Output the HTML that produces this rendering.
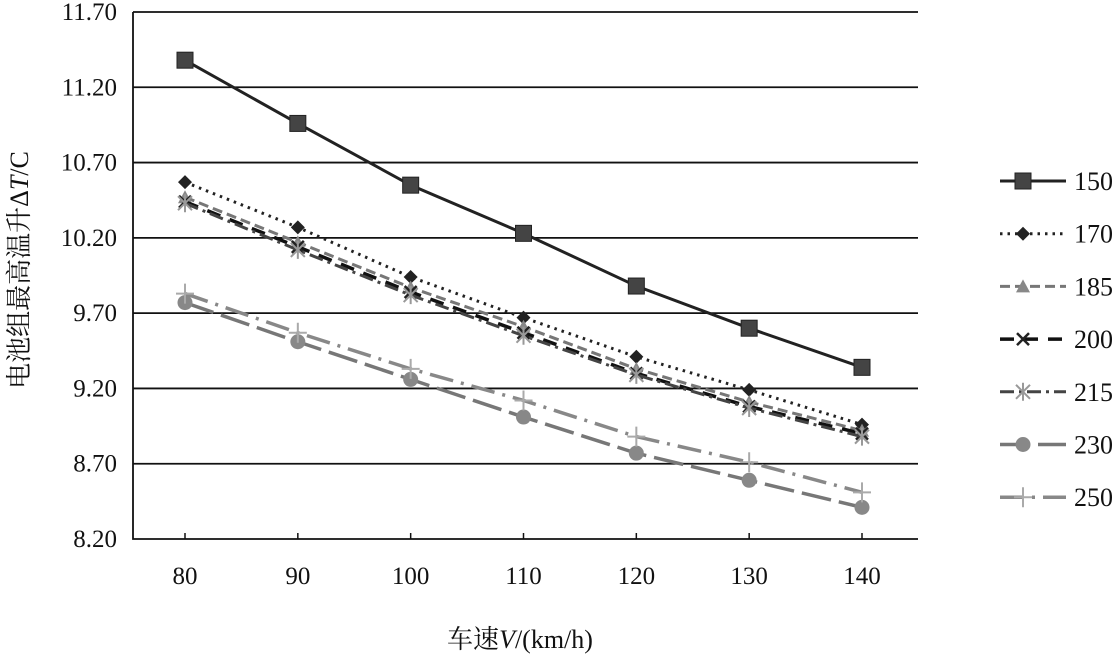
<!DOCTYPE html>
<html><head><meta charset="utf-8"><style>
html,body{margin:0;padding:0;background:#fff}
svg text{font-family:"Liberation Serif","Noto Serif CJK SC",serif;fill:#111}
</style></head><body>
<svg id="c" width="1116" height="661" viewBox="0 0 1116 661" xmlns="http://www.w3.org/2000/svg">
<g id="grid"></g>
<g id="axes"></g>
<g id="series"></g>
<g id="legend"></g>
<text x="520" y="648" text-anchor="middle" font-size="26">车速<tspan font-style="italic">V</tspan>/(km/h)</text>
<text transform="translate(28,270) rotate(-90)" text-anchor="middle" font-size="26">电池组最高温升Δ<tspan font-style="italic">T</tspan>/C</text>
</svg>
<script>
const categories=[80,90,100,110,120,130,140];
const yTicks=[8.20,8.70,9.20,9.70,10.20,10.70,11.20,11.70];
const seriesNames=["150","170","185","200","215","230","250"];
const s150=[11.38,10.96,10.55,10.23,9.88,9.60,9.34];
const s170=[10.57,10.27,9.94,9.67,9.41,9.19,8.96];
const s185=[10.47,10.17,9.87,9.61,9.33,9.11,8.92];
const s200=[10.44,10.14,9.84,9.57,9.30,9.08,8.90];
const s215=[10.43,10.12,9.82,9.55,9.29,9.07,8.88];
const s230=[9.77,9.51,9.26,9.01,8.77,8.59,8.41];
const s250=[9.83,9.57,9.33,9.12,8.88,8.71,8.51];
const allSeries=[s150,s170,s185,s200,s215,s230,s250];
const NS='http://www.w3.org/2000/svg';
const X0=133,X1=918,Y0=539,Y1=12;
const xs=v=>185+(v-80)*(862-185)/60;
const ys=v=>Y0-(v-8.2)*(Y0-Y1)/3.5;
function mk(tag,at,parent){const e=document.createElementNS(NS,tag);for(const k in at)e.setAttribute(k,at[k]);parent.appendChild(e);return e;}
const grid=document.getElementById('grid'),axes=document.getElementById('axes'),ser=document.getElementById('series'),leg=document.getElementById('legend');
yTicks.forEach(t=>{
 if(t>8.2){const l=mk('line',{x1:X0,x2:X1,y1:ys(t),y2:ys(t),stroke:'#111','stroke-width':1.8},grid);
 
 }
 const tx=mk('text',{x:117,y:ys(t)+8,'text-anchor':'end','font-size':25},axes);tx.textContent=t.toFixed(2);
 
 
});
const ax=mk('path',{d:`M${X0} ${Y1}V${Y0}H${X1}`,stroke:'#111','stroke-width':1.8,fill:'none'},axes);


categories.forEach(c=>{
 mk('line',{x1:xs(c),x2:xs(c),y1:Y0,y2:Y0-6,stroke:'#111','stroke-width':1.5},axes);
 const tx=mk('text',{x:xs(c),y:584,'text-anchor':'middle','font-size':25},axes);tx.textContent=c;
 
 
});
const styles=[
 {c:'#222',w:3,d:'',m:'sq'},
 {c:'#222',w:3,d:'2.5 5',m:'dia'},
 {c:'#777',w:3,d:'10 5',m:'tri'},
 {c:'#111',w:3.5,d:'14 10',m:'x'},
 {c:'#444',w:3,d:'14 5 3 5',m:'star'},
 {c:'#777',w:3.5,d:'30 8',m:'circ'},
 {c:'#888',w:3.5,d:'24 8 3 8',m:'plus'}];
function marker(g,m,x,y,c){
 if(m==='sq')mk('rect',{x:x-8,y:y-8,width:16,height:16,fill:'#444',stroke:'#222'},g);
 else if(m==='dia')mk('path',{d:`M${x} ${y-7}L${x+7} ${y}L${x} ${y+7}L${x-7} ${y}Z`,fill:'#222'},g);
 else if(m==='tri')mk('path',{d:`M${x} ${y-7}L${x+7} ${y+6}L${x-7} ${y+6}Z`,fill:'#888'},g);
 else if(m==='x')mk('path',{d:`M${x-6} ${y-6}L${x+6} ${y+6}M${x+6} ${y-6}L${x-6} ${y+6}`,stroke:'#222','stroke-width':2.5},g);
 else if(m==='star')mk('path',{d:`M${x-7} ${y-7}L${x+7} ${y+7}M${x+7} ${y-7}L${x-7} ${y+7}M${x} ${y-9}V${y+9}`,stroke:'#999','stroke-width':2},g);
 else if(m==='circ')mk('circle',{cx:x,cy:y,r:7.5,fill:'#888'},g);
 else mk('path',{d:`M${x-9} ${y}H${x+9}M${x} ${y-10}V${y+10}`,stroke:'#aaa','stroke-width':2},g);
}
allSeries.forEach((s,i)=>{
 const st=styles[i];
 const g=mk('g',{},ser);
 
 
 mk('polyline',{points:s.map((v,j)=>xs(categories[j])+','+ys(v)).join(' '),fill:'none',stroke:st.c,'stroke-width':st.w,'stroke-dasharray':st.d},g);
 s.forEach((v,j)=>marker(g,st.m,xs(categories[j]),ys(v),st.c));
 const ly=181+52.7*i;
 const lg=mk('g',{},leg);
 
 
 mk('line',{x1:1000,x2:1066,y1:ly,y2:ly,stroke:st.c,'stroke-width':st.w,'stroke-dasharray':st.d},lg);
 marker(lg,st.m,1023,ly,st.c);
 const t=mk('text',{x:1074,y:ly+9,'font-size':26},lg);t.textContent=seriesNames[i];
});
</script>
</body></html>
